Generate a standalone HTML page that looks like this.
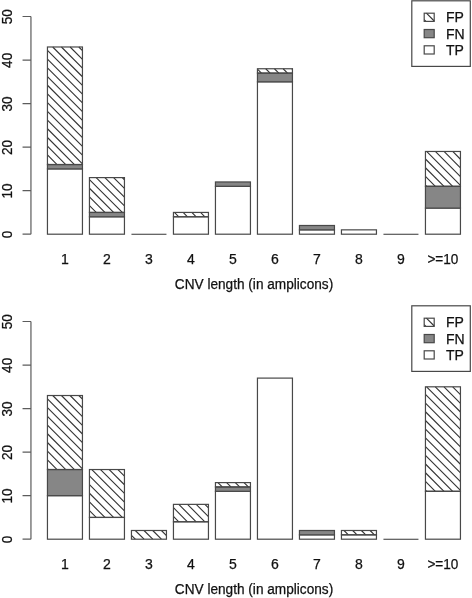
<!DOCTYPE html>
<html><head><meta charset="utf-8"><title>CNV length barplots</title>
<style>
html,body{margin:0;padding:0;background:#fff}
svg{display:block}
.g{fill:none;stroke:#484848;stroke-width:1.2}
.h{stroke:#343434;stroke-width:1.12}
.a{stroke:#5c5c5c}
.t{font-family:"Liberation Sans",Arial,Helvetica,sans-serif;font-size:14.0px;fill:#111;stroke:#111;stroke-width:.25px;text-anchor:middle}
.l{font-family:"Liberation Sans",Arial,Helvetica,sans-serif;font-size:14.0px;fill:#111;stroke:#111;stroke-width:.25px;text-anchor:start}
</style></head><body>
<svg width="472" height="598" viewBox="0 0 472 598">
<rect width="472" height="598" fill="#fff"/>
<g class="g">
<rect x="47.45" y="168.89" width="35" height="65.31" fill="#fff"/>
<rect x="47.45" y="164.54" width="35" height="4.35" fill="#868686"/>
<path class="h" d="M78.81 46.98L82.45 50.62M70.12 46.98L82.45 59.33M61.42 46.98L82.45 68.04M52.73 46.98L82.45 76.75M47.45 50.4L82.45 85.45M47.45 59.11L82.45 94.16M47.45 67.82L82.45 102.87M47.45 76.53L82.45 111.58M47.45 85.23L82.45 120.29M47.45 93.94L82.45 128.99M47.45 102.65L82.45 137.7M47.45 111.36L82.45 146.41M47.45 120.07L82.45 155.12M47.45 128.77L82.45 163.83M47.45 137.48L74.46 164.54M47.45 146.19L65.77 164.54M47.45 154.9L57.07 164.54M47.45 163.61L48.38 164.54"/>
<rect x="47.45" y="46.98" width="35" height="117.56" fill="none"/>
<rect x="89.45" y="216.78" width="35" height="17.42" fill="#fff"/>
<rect x="89.45" y="212.43" width="35" height="4.35" fill="#868686"/>
<path class="h" d="M122.29 177.6L124.45 179.76M113.59 177.6L124.45 188.47M104.9 177.6L124.45 197.18M96.2 177.6L124.45 205.89M89.45 179.54L122.29 212.43M89.45 188.25L113.59 212.43M89.45 196.96L104.9 212.43M89.45 205.67L96.2 212.43"/>
<rect x="89.45" y="177.6" width="35" height="34.83" fill="none"/>
<line class="h" x1="131.45" y1="234.2" x2="166.45" y2="234.2"/>
<rect x="173.45" y="216.78" width="35" height="17.42" fill="#fff"/>
<path class="h" d="M200.54 212.43L204.89 216.78M191.85 212.43L196.19 216.78M183.15 212.43L187.5 216.78M174.46 212.43L178.8 216.78"/>
<rect x="173.45" y="212.43" width="35" height="4.35" fill="none"/>
<rect x="215.45" y="186.31" width="35" height="47.89" fill="#fff"/>
<rect x="215.45" y="181.95" width="35" height="4.35" fill="#868686"/>
<rect x="257.45" y="81.81" width="35" height="152.39" fill="#fff"/>
<rect x="257.45" y="73.1" width="35" height="8.71" fill="#868686"/>
<path class="h" d="M291.84 68.75L292.45 69.36M283.14 68.75L287.49 73.1M274.45 68.75L278.8 73.1M265.75 68.75L270.1 73.1M257.45 69.14L261.41 73.1"/>
<rect x="257.45" y="68.75" width="35" height="4.35" fill="none"/>
<rect x="299.45" y="229.85" width="35" height="4.35" fill="#fff"/>
<rect x="299.45" y="225.49" width="35" height="4.35" fill="#868686"/>
<rect x="341.45" y="229.85" width="35" height="4.35" fill="#fff"/>
<line class="h" x1="383.45" y1="234.2" x2="418.45" y2="234.2"/>
<rect x="425.45" y="208.08" width="35" height="26.12" fill="#fff"/>
<rect x="425.45" y="186.31" width="35" height="21.77" fill="#868686"/>
<path class="h" d="M452.69 151.47L460.45 159.24M444 151.47L460.45 167.95M435.31 151.47L460.45 176.66M426.61 151.47L460.45 185.36M425.45 159.02L452.69 186.31M425.45 167.73L444 186.31M425.45 176.44L435.31 186.31M425.45 185.14L426.61 186.31"/>
<rect x="425.45" y="151.47" width="35" height="34.83" fill="none"/>
<path class="a" d="M30.95 234.2V16.5M30.95 234.2H22.55M30.95 190.66H22.55M30.95 147.12H22.55M30.95 103.58H22.55M30.95 60.04H22.55M30.95 16.5H22.55"/>
<rect x="411.8" y="0.8" width="58.5" height="65.6" fill="#fff"/>
<path class="h" d="M426.4 13.2L434.2 21.01M424.2 19.7L425.89 21.4"/>
<rect x="424.2" y="13.2" width="10.0" height="8.2" fill="none"/>
<rect x="424.2" y="29.5" width="10.0" height="8.2" fill="#868686"/>
<rect x="424.2" y="45.8" width="10.0" height="8.2" fill="#fff"/>
</g>
<g class="t">
<text transform="translate(11.6 234.5) rotate(-90)" font-size="14.9" textLength="7.55" lengthAdjust="spacingAndGlyphs">0</text>
<text transform="translate(11.6 190.96) rotate(-90)" font-size="14.9" textLength="15.1" lengthAdjust="spacingAndGlyphs">10</text>
<text transform="translate(11.6 147.42) rotate(-90)" font-size="14.9" textLength="15.1" lengthAdjust="spacingAndGlyphs">20</text>
<text transform="translate(11.6 103.88) rotate(-90)" font-size="14.9" textLength="15.1" lengthAdjust="spacingAndGlyphs">30</text>
<text transform="translate(11.6 60.34) rotate(-90)" font-size="14.9" textLength="15.1" lengthAdjust="spacingAndGlyphs">40</text>
<text transform="translate(11.6 16.8) rotate(-90)" font-size="14.9" textLength="15.1" lengthAdjust="spacingAndGlyphs">50</text>
<text x="64.95" y="264">1</text>
<text x="106.95" y="264">2</text>
<text x="148.95" y="264">3</text>
<text x="190.95" y="264">4</text>
<text x="232.95" y="264">5</text>
<text x="274.95" y="264">6</text>
<text x="316.95" y="264">7</text>
<text x="358.95" y="264">8</text>
<text x="400.95" y="264">9</text>
<text x="442.95" y="264" textLength="31" lengthAdjust="spacingAndGlyphs">&gt;=10</text>
<text x="254.0" y="289" textLength="158.4" lengthAdjust="spacingAndGlyphs">CNV length (in amplicons)</text>
</g>
<g class="l">
<text x="446.0" y="22">FP</text>
<text x="446.0" y="39">FN</text>
<text x="446.0" y="55">TP</text>
</g>
<g transform="translate(0 305)">
<g class="g">
<rect x="47.45" y="190.66" width="35" height="43.54" fill="#fff"/>
<rect x="47.45" y="164.54" width="35" height="26.12" fill="#868686"/>
<path class="h" d="M78.81 90.52L82.45 94.16M70.12 90.52L82.45 102.87M61.42 90.52L82.45 111.58M52.73 90.52L82.45 120.29M47.45 93.94L82.45 128.99M47.45 102.65L82.45 137.7M47.45 111.36L82.45 146.41M47.45 120.07L82.45 155.12M47.45 128.77L82.45 163.83M47.45 137.48L74.46 164.54M47.45 146.19L65.77 164.54M47.45 154.9L57.07 164.54M47.45 163.61L48.38 164.54"/>
<rect x="47.45" y="90.52" width="35" height="74.02" fill="none"/>
<rect x="89.45" y="212.43" width="35" height="21.77" fill="#fff"/>
<path class="h" d="M117.94 164.54L124.45 171.06M109.24 164.54L124.45 179.76M100.55 164.54L124.45 188.47M91.85 164.54L124.45 197.18M89.45 170.84L124.45 205.89M89.45 179.54L122.29 212.43M89.45 188.25L113.59 212.43M89.45 196.96L104.9 212.43M89.45 205.67L96.2 212.43"/>
<rect x="89.45" y="164.54" width="35" height="47.89" fill="none"/>
<path class="h" d="M161.41 225.49L166.45 230.54M152.72 225.49L161.41 234.2M144.02 225.49L152.72 234.2M135.33 225.49L144.02 234.2M131.45 230.32L135.33 234.2"/>
<rect x="131.45" y="225.49" width="35" height="8.71" fill="none"/>
<rect x="173.45" y="216.78" width="35" height="17.42" fill="#fff"/>
<path class="h" d="M204.89 199.37L208.45 202.93M196.19 199.37L208.45 211.64M187.5 199.37L204.89 216.78M178.8 199.37L196.19 216.78M173.45 202.71L187.5 216.78M173.45 211.42L178.8 216.78"/>
<rect x="173.45" y="199.37" width="35" height="17.42" fill="none"/>
<rect x="215.45" y="186.31" width="35" height="47.89" fill="#fff"/>
<rect x="215.45" y="181.95" width="35" height="4.35" fill="#868686"/>
<path class="h" d="M244.02 177.6L248.36 181.95M235.32 177.6L239.67 181.95M226.63 177.6L230.97 181.95M217.93 177.6L222.28 181.95"/>
<rect x="215.45" y="177.6" width="35" height="4.35" fill="none"/>
<rect x="257.45" y="73.1" width="35" height="161.1" fill="#fff"/>
<rect x="299.45" y="229.85" width="35" height="4.35" fill="#fff"/>
<rect x="299.45" y="225.49" width="35" height="4.35" fill="#868686"/>
<rect x="341.45" y="229.85" width="35" height="4.35" fill="#fff"/>
<path class="h" d="M370.09 225.49L374.44 229.85M361.4 225.49L365.75 229.85M352.7 225.49L357.05 229.85M344.01 225.49L348.36 229.85"/>
<rect x="341.45" y="225.49" width="35" height="4.35" fill="none"/>
<line class="h" x1="383.45" y1="234.2" x2="418.45" y2="234.2"/>
<rect x="425.45" y="186.31" width="35" height="47.89" fill="#fff"/>
<path class="h" d="M452.69 81.81L460.45 89.58M444 81.81L460.45 98.28M435.31 81.81L460.45 106.99M426.61 81.81L460.45 115.7M425.45 89.36L460.45 124.41M425.45 98.06L460.45 133.12M425.45 106.77L460.45 141.82M425.45 115.48L460.45 150.53M425.45 124.19L460.45 159.24M425.45 132.9L460.45 167.95M425.45 141.6L460.45 176.66M425.45 150.31L460.45 185.36M425.45 159.02L452.69 186.31M425.45 167.73L444 186.31M425.45 176.44L435.31 186.31M425.45 185.14L426.61 186.31"/>
<rect x="425.45" y="81.81" width="35" height="104.5" fill="none"/>
<path class="a" d="M30.95 234.2V16.5M30.95 234.2H22.55M30.95 190.66H22.55M30.95 147.12H22.55M30.95 103.58H22.55M30.95 60.04H22.55M30.95 16.5H22.55"/>
<rect x="411.8" y="0.8" width="58.5" height="65.6" fill="#fff"/>
<path class="h" d="M426.4 13.2L434.2 21.01M424.2 19.7L425.89 21.4"/>
<rect x="424.2" y="13.2" width="10.0" height="8.2" fill="none"/>
<rect x="424.2" y="29.5" width="10.0" height="8.2" fill="#868686"/>
<rect x="424.2" y="45.8" width="10.0" height="8.2" fill="#fff"/>
</g>
<g class="t">
<text transform="translate(11.6 234.5) rotate(-90)" font-size="14.9" textLength="7.55" lengthAdjust="spacingAndGlyphs">0</text>
<text transform="translate(11.6 190.96) rotate(-90)" font-size="14.9" textLength="15.1" lengthAdjust="spacingAndGlyphs">10</text>
<text transform="translate(11.6 147.42) rotate(-90)" font-size="14.9" textLength="15.1" lengthAdjust="spacingAndGlyphs">20</text>
<text transform="translate(11.6 103.88) rotate(-90)" font-size="14.9" textLength="15.1" lengthAdjust="spacingAndGlyphs">30</text>
<text transform="translate(11.6 60.34) rotate(-90)" font-size="14.9" textLength="15.1" lengthAdjust="spacingAndGlyphs">40</text>
<text transform="translate(11.6 16.8) rotate(-90)" font-size="14.9" textLength="15.1" lengthAdjust="spacingAndGlyphs">50</text>
<text x="64.95" y="264">1</text>
<text x="106.95" y="264">2</text>
<text x="148.95" y="264">3</text>
<text x="190.95" y="264">4</text>
<text x="232.95" y="264">5</text>
<text x="274.95" y="264">6</text>
<text x="316.95" y="264">7</text>
<text x="358.95" y="264">8</text>
<text x="400.95" y="264">9</text>
<text x="442.95" y="264" textLength="31" lengthAdjust="spacingAndGlyphs">&gt;=10</text>
<text x="254.0" y="289" textLength="158.4" lengthAdjust="spacingAndGlyphs">CNV length (in amplicons)</text>
</g>
<g class="l">
<text x="446.0" y="22">FP</text>
<text x="446.0" y="39">FN</text>
<text x="446.0" y="55">TP</text>
</g>
</g>
</svg>
</body></html>
